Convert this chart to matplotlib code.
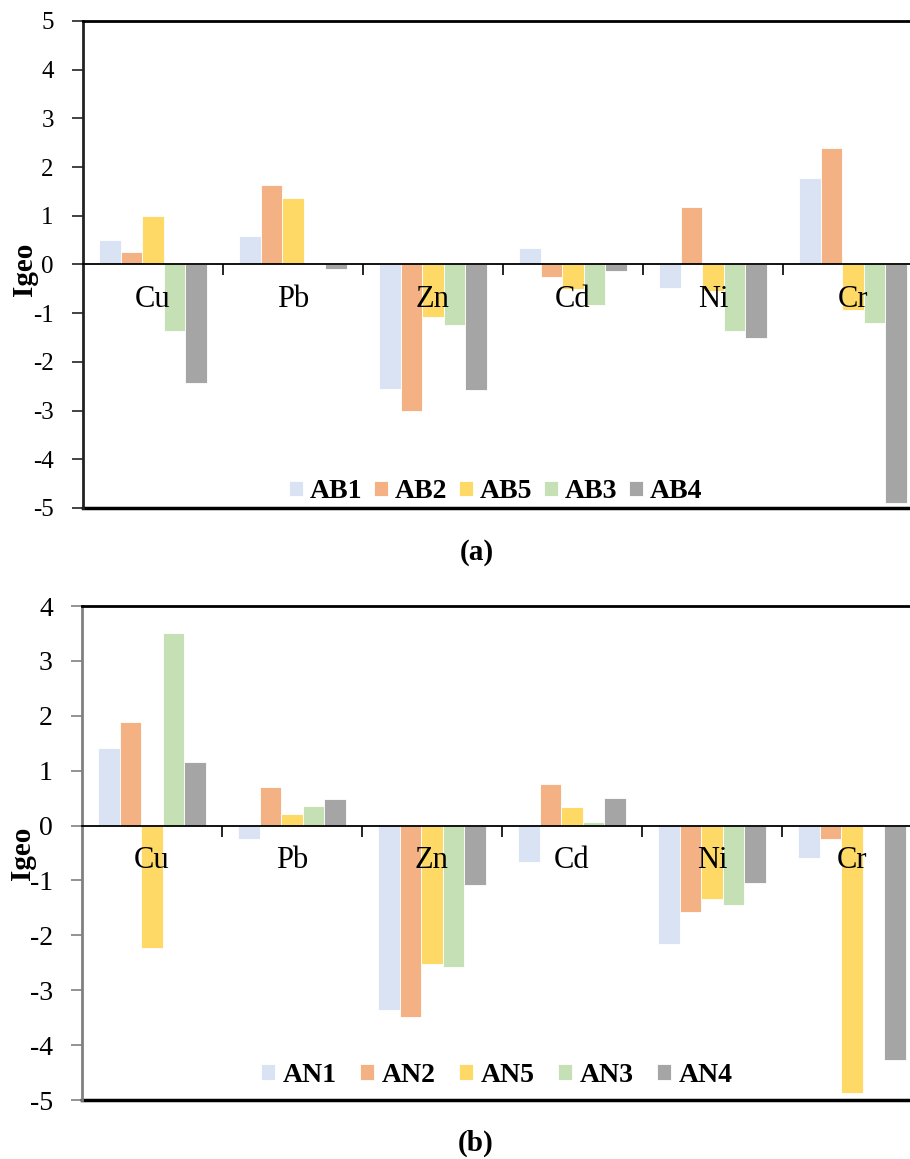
import numpy as np
import matplotlib
matplotlib.use("Agg")
import matplotlib.pyplot as plt

CAT_SIZE = 22
LABEL_SIZE = 21

plt.rcParams["font.family"] = "Liberation Serif"
plt.rcParams["axes.unicode_minus"] = False

elements = ["Cu", "Pb", "Zn", "Cd", "Ni", "Cr"]
colors = ["#DAE3F3", "#F4B183", "#FFD966", "#C5E0B4", "#A5A5A5"]

# panel (a)
names_a = ["AB1", "AB2", "AB5", "AB3", "AB4"]
ab1 = [0.51, 0.59, -2.56, 0.33, -0.48, 1.77]
ab2 = [0.25, 1.64, -3.01, -0.25, 1.19, 2.39]
ab5 = [0.99, 1.36, -1.08, -0.51, -0.55, -0.94]
ab3 = [-1.36, 0.0, -1.24, -0.83, -1.36, -1.21]
ab4 = [-2.43, -0.10, -2.57, -0.13, -1.51, -4.89]

# panel (b)
names_b = ["AN1", "AN2", "AN5", "AN3", "AN4"]
an1 = [1.41, -0.24, -3.36, -0.66, -2.15, -0.59]
an2 = [1.88, 0.70, -3.49, 0.75, -1.58, -0.25]
an5 = [-2.23, 0.21, -2.52, 0.34, -1.34, -4.88]
an3 = [3.51, 0.36, -2.57, 0.07, -1.44, 0.02]
an4 = [1.15, 0.49, -1.09, 0.50, -1.05, -4.27]


# ------------------------------------------------------------------------------------------------------------- #
def plot_panel(ax, series, names, ylim, leg_anchor, tick_size, colspace, ycolor):
    x = np.arange(len(elements))
    w = 0.768 / len(series)
    for i, vals in enumerate(series):
        ax.bar(x + (i - 2) * w, vals, width=w, color=colors[i], edgecolor="white",
               linewidth=0.6, label=names[i], zorder=1)
    ax.set_xlim(-0.5, len(elements) - 0.5)
    ax.set_ylim(ylim)
    ax.set_yticks(np.arange(ylim[0], ylim[1] + 1))
    ax.yaxis.set_tick_params(labelsize=tick_size, length=8, width=1.2, pad=13, color=ycolor)
    # category axis crosses at zero
    ax.spines["bottom"].set_position(("data", 0))
    ax.spines["bottom"].set_linewidth(1.3)
    ax.spines["left"].set_linewidth(2)
    ax.spines["left"].set_color(ycolor)
    ax.spines["top"].set_linewidth(2)
    ax.spines["right"].set_linewidth(2)
    ax.axhline(ylim[0], color="black", linewidth=2.5, clip_on=False)
    ax.set_xticks(x)
    ax.set_xticklabels(elements, fontsize=CAT_SIZE)
    ax.set_xticks(x[:-1] + 0.5, minor=True)
    ax.xaxis.set_tick_params(which="major", length=0, pad=15)
    ax.xaxis.set_tick_params(which="minor", length=8, width=1.2, direction="out")
    ax.set_ylabel("Igeo", fontsize=LABEL_SIZE, fontweight="bold")
    ax.legend(loc="center", bbox_to_anchor=leg_anchor, ncol=5, frameon=False,
              prop={"weight": "bold", "size": 20}, handlelength=0.5, handleheight=0.5,
              handletextpad=0.25, columnspacing=colspace, borderpad=0)


fig = plt.figure(figsize=(9.1, 11.59), dpi=100)
ax1 = fig.add_axes([0.0912, 0.5617, 0.923, 0.4202])
ax2 = fig.add_axes([0.0901, 0.0509, 0.923, 0.4262])

plot_panel(ax1, [ab1, ab2, ab5, ab3, ab4], names_a, (-5, 5), (0.4917, 0.033), 18, 0.42, "#222222")
plot_panel(ax2, [an1, an2, an5, an3, an4], names_b, (-5, 4), (0.494, 0.0506), 20, 0.87, "#808080")
ax1.yaxis.set_label_coords(-0.053, 0.491)
ax2.yaxis.set_label_coords(-0.055, 0.5)

fig.text(477 / 910, 1 - 553 / 1159, "(a)", fontsize=LABEL_SIZE, fontweight="bold", ha="center", va="center")
fig.text(476 / 910, 1 - 1143 / 1159, "(b)", fontsize=LABEL_SIZE, fontweight="bold", ha="center", va="center")

fig.savefig("out.png", dpi=100)
